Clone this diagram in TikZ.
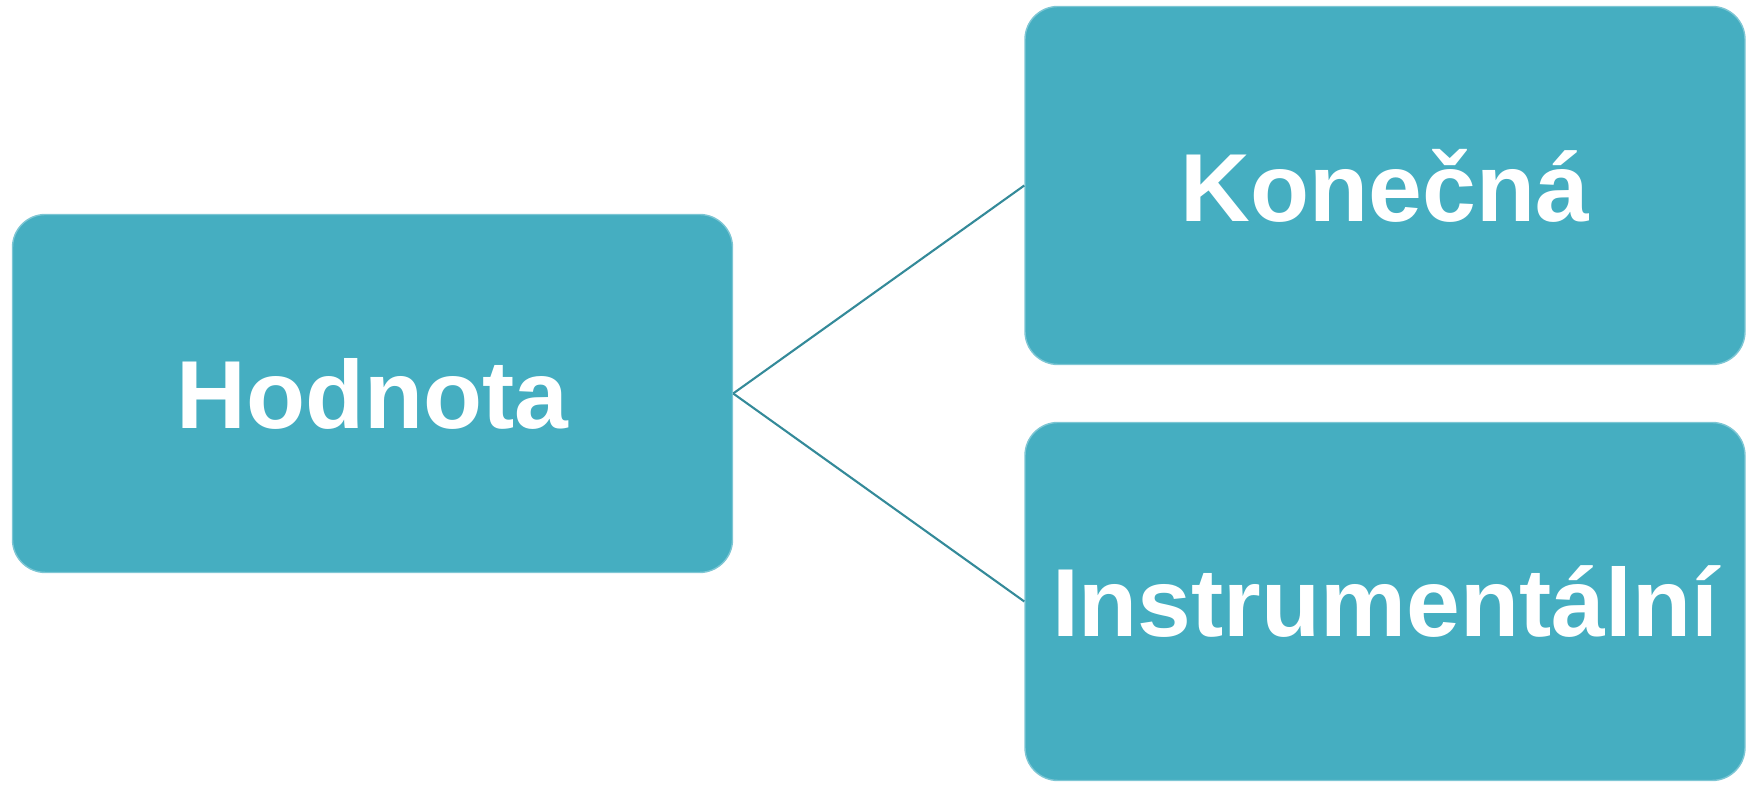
\documentclass[tikz,border=0pt]{standalone}
\usepackage{fontspec}
\setmainfont{Liberation Sans}
\usepackage{xcolor}
\definecolor{boxteal}{RGB}{69,174,193}
\definecolor{lineteal}{RGB}{52,138,153}

\begin{document}
\begin{tikzpicture}[grow'=right,
    level distance=10.125cm,
    level 1/.style={sibling distance=4.16cm},
    edge from parent/.style={draw,lineteal,line width=0.6pt},
    edge from parent path={(\tikzparentnode.east) -- (\tikzchildnode.west)},
    every node/.style={rectangle,rounded corners=0.33cm,fill=boxteal,
      draw=boxteal!70!white,line width=0.4pt,
      minimum width=7.2cm,minimum height=3.58cm,text=white,
      font=\fontsize{27.5}{33}\selectfont\bfseries}]
    \useasboundingbox (0,0) rectangle (17.54,7.86);

    \node (hodnota) at (3.725,3.925) {Hodnota}
      child { node (konecna) {Konečná} }
      child { node (instr) {Instrumentální} };
  \end{tikzpicture}
\end{document}
